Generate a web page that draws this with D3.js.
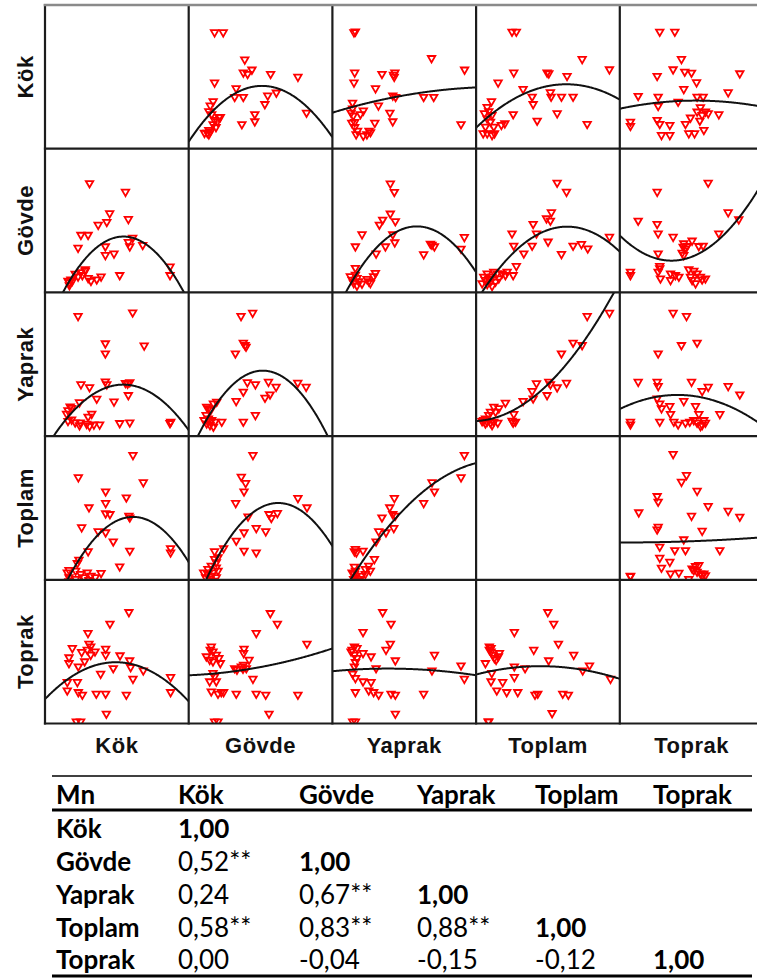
<!DOCTYPE html>
<html>
<head>
<meta charset="utf-8">
<script src="https://cdn.jsdelivr.net/npm/d3@7"></script>
<style>
  body { margin: 0; background: #fff; }
  svg { display: block; }
</style>
</head>
<body>
<svg id="chart" width="757" height="979"></svg>
<script>
// Mn concentrations (relative scale, 0–100 of each variable's axis range)
const variables = ["Kök", "Gövde", "Yaprak", "Toplam", "Toprak"];

// Paired observations, stored as [first variable, second variable]
const kokGovde = [[81,12],[81,18],[62,33],[53,32],[52,35],[55,38],[46,12],[52,51],[50,70],[42,27],[36,26],[36,32],[37,49],[39,55],[31,47],[33,11],[30,9],[26,8],[24,10],[22,15],[20,12],[17,11],[15,13],[13,8],[11,7],[10,8],[11,5],[12,9],[24,40],[19,40],[17,31],[25,76],[22,16],[19,14]];
const kokYaprak = [[17,83.5],[55,86],[36,64.5],[36,57.5],[63,63],[19,36],[25,34],[36,38],[37,36],[30,26],[42,24],[52,28.5],[50,37],[53,37.5],[51.5,36.5],[18,23.5],[11.5,20.5],[10,18],[9,15.5],[12.5,19.5],[10,10.5],[12.5,11.5],[15,9.5],[18.5,9.5],[18,7.5],[23,8.5],[25,7],[26.5,15.5],[24,13.5],[28,8],[32,8],[46,9],[53,9.5],[81.5,10],[81,9]];
const kokToplam = [[81.4,19],[81.4,22],[62.4,67.8],[53,20.2],[53,43.4],[52.4,44.6],[50.6,57.3],[55.2,86.8],[46,9.3],[41.5,26.7],[36.2,33],[39.2,45.7],[36.2,46.2],[36.2,53.4],[36.2,61.5],[31,33.7],[33,4.7],[29,1.7],[26,2.8],[24.6,-0.2],[23.4,5],[21,1.7],[18.8,4],[10.7,-1.1],[10.7,1.7],[9.5,5.1],[10.7,6.8],[15.3,0.5],[15.3,6.3],[24,19.8],[17.6,14],[16.5,11.6],[19.5,36.5],[24.6,50.4],[17.2,71.3]];
const kokToprak = [[81.4,21.8],[81.4,32.3],[62.4,36.9],[55.2,31.1],[53.6,39.2],[52.9,43.9],[50.6,20],[52.4,77.5],[46.2,47.4],[41.5,38.5],[36.7,6.8],[36.2,20.7],[32.7,34.6],[36.2,47.8],[36.2,52],[39.2,69.4],[29.7,20.7],[28.8,50.1],[25.8,53.6],[23.4,51.3],[24.6,55.5],[23.9,62.9],[25.8,47.8],[21.6,43.2],[19.5,49.7],[18.8,1.4],[15.8,1.4],[20,20],[17.2,21.8],[16.5,28.8],[17.2,39.7],[9.5,23],[9.5,28.8],[10.7,42],[10.7,46],[13,52.5]];
const govdeYaprak = [[30.4,83.5],[38.5,85.8],[32,65],[33.2,63.3],[33.9,62.2],[26.5,57.5],[34.8,37.4],[40.4,36],[49.5,37.8],[54.8,34.3],[69.9,37.1],[75.7,34.3],[32,30.9],[27,24.4],[50.6,29],[47.1,26.7],[40.4,14.6],[32,10],[6.5,20.4],[7.7,19.3],[9.3,18.1],[11.2,22.7],[13.5,23.9],[6.1,14.6],[7.7,12.3],[10,11.1],[6.5,8.8],[12.3,10],[17,10],[8.8,7.7],[11.2,6.5],[4.7,11.1]];
const govdeToplam = [[76.3,50.4],[70,56.9],[55.7,46.4],[51.5,43],[49.9,45.7],[47.6,33.7],[41,36],[41,19],[32.5,20.2],[27.1,27.2],[32.5,33],[35.3,44.1],[26.7,53.4],[32.5,61.5],[33.6,67.3],[30.6,71.7],[38.7,86.8],[18.3,22],[12,19.8],[6.3,-1.8],[8.6,0.5],[9.7,2.8],[10.9,5.1],[13.2,1.7],[14.4,6.3],[13.2,8.6],[13.2,12.1],[12,14.4],[14.4,15.6],[7.4,4],[7.4,7.5],[10.9,-0.7],[5.8,1.7],[4.4,5.1],[9.7,9.8]];
const govdeToprak = [[76.3,55.5],[70,20],[55.7,69.4],[50.8,76.8],[49.9,6.8],[47.6,20],[41,62.9],[41,20.7],[38.7,31.1],[34.1,38.5],[31.8,38.1],[30.6,39.7],[32.2,40.9],[36,44.3],[32.2,49],[32.5,52],[27.6,37.4],[26,38.5],[27.1,20.7],[18.3,21.8],[16.7,21.8],[14.4,20.7],[13.2,29.3],[12,32.7],[10.9,35.1],[9.7,22.3],[8.6,29.3],[16,42],[15,45.5],[13.2,47.8],[10.9,50.1],[9,51.3],[9.7,53.6],[8.6,44.3],[6.3,46.7],[14.4,1.4],[12,1.4],[10.9,43.2]];
const yaprakToplam = [[83.5,71.3],[85.8,86.8],[65,61.5],[63.3,67.8],[57.5,53.4],[36.7,36],[37.8,44.6],[36,45.7],[33.9,50.4],[37.1,56.9],[31.3,33],[26.2,33.7],[28.5,43.4],[24.4,26.7],[23.2,14.4],[20.4,6.3],[19.3,9.8],[16.9,4],[16.9,7.5],[14.6,2.8],[12.3,0.5],[11.1,-0.7],[10,1.7],[9.3,4],[10,6.3],[10.4,-1.8],[8.8,0.5],[9.3,9.1],[7.7,5.1],[15.3,20.2],[10.7,19],[10,21.4],[9.3,19.8]];
const yaprakToprak = [[85.8,31.1],[83.5,40.4],[63.3,36.9],[65,47.8],[57.5,20.7],[37.8,6.8],[37.8,20],[34.8,20.7],[37.8,43.9],[31.3,51.3],[34.3,55.5],[34.8,69.4],[29,77.5],[26.2,20],[22.7,21.8],[19.3,23],[20.9,28.8],[15.3,29.3],[24.4,38.5],[20.9,46.7],[15.3,49],[15.3,63.6],[10,1.4],[8.1,1.4],[10,21.8],[10,31.6],[8.1,34.6],[9.3,39.7],[10,42.7],[11.1,45.5],[9.3,47.8],[7.7,51.3],[11.1,52.5],[9.3,53.6],[7,50.1]];
const toplamToprak = [[87.5,31.1],[72.9,40.4],[68.2,36.9],[61.9,47.8],[58.2,20],[54.3,20.7],[51.3,55.5],[46.9,7.2],[44.5,43.9],[48,69.4],[43.9,77.5],[36.9,20.7],[35,20],[34.1,51.3],[28.1,38.5],[23,21.8],[20.6,32.3],[20.6,39.7],[20.6,63.6],[15.3,21.8],[12.5,28.8],[8.4,23],[4.4,29.3],[4.9,35.1],[2.8,1.4],[2.4,1.4],[0.5,42],[7.9,44.3],[9.5,46.7],[10.2,49],[6.7,45.5],[4.4,50.1],[3.2,51.3],[3.2,53.6],[4.4,52.5],[5.6,47.8]];

// Pearson correlations and significance markers (lower triangle)
const corrValues = [
  [1.00],
  [0.52, 1.00],
  [0.24, 0.67, 1.00],
  [0.58, 0.83, 0.88, 1.00],
  [0.00, -0.04, -0.15, -0.12, 1.00]
];
const corrStars = [
  [""],
  ["**", ""],
  ["", "**", ""],
  ["**", "**", "**", ""],
  ["", "", "", "", ""]
];
const tableCorner = "Mn";

const pairData = {
  "0-1": kokGovde, "0-2": kokYaprak, "0-3": kokToplam, "0-4": kokToprak,
  "1-2": govdeYaprak, "1-3": govdeToplam, "1-4": govdeToprak,
  "2-3": yaprakToplam, "2-4": yaprakToprak, "3-4": toplamToprak
};

// ---------- layout ----------
const svg = d3.select("#chart");
const gridLeft = 45, gridTop = 5, cell = 143.7;
const nVar = variables.length;
const xDomain = [-6, 94];   // horizontal axes carry extra left padding
const yDomain = [0, 100];

const xScales = variables.map((_, j) =>
  d3.scaleLinear().domain(xDomain).range([gridLeft + j * cell, gridLeft + (j + 1) * cell]));
const yScales = variables.map((_, i) =>
  d3.scaleLinear().domain(yDomain).range([gridTop + (i + 1) * cell, gridTop + i * cell]));

// least-squares quadratic y = a + b x + c x^2
function quadFit(pts) {
  let S = [0, 0, 0, 0, 0], T = [0, 0, 0];
  for (const [x, y] of pts) {
    let p = 1;
    for (let k = 0; k < 5; k++) { S[k] += p; if (k < 3) T[k] += p * y; p *= x; }
  }
  const M = [
    [S[0], S[1], S[2], T[0]],
    [S[1], S[2], S[3], T[1]],
    [S[2], S[3], S[4], T[2]]
  ];
  for (let c = 0; c < 3; c++) {
    let piv = c;
    for (let r = c + 1; r < 3; r++) if (Math.abs(M[r][c]) > Math.abs(M[piv][c])) piv = r;
    [M[c], M[piv]] = [M[piv], M[c]];
    for (let r = 0; r < 3; r++) {
      if (r === c) continue;
      const f = M[r][c] / M[c][c];
      for (let k = c; k < 4; k++) M[r][k] -= f * M[c][k];
    }
  }
  return [M[0][3] / M[0][0], M[1][3] / M[1][1], M[2][3] / M[2][2]];
}

const defs = svg.append("defs");
const marker = d3.symbol().type(d3.symbolTriangle).size(24);

const panels = svg.append("g");
for (let r = 0; r < nVar; r++) {
  for (let c = 0; c < nVar; c++) {
    if (r === c) continue;
    const key = r < c ? `${r}-${c}` : `${c}-${r}`;
    // x = column variable, y = row variable
    const pts = pairData[key].map(d => r < c ? [d[1], d[0]] : [d[0], d[1]]);
    const xs = xScales[c], ys = yScales[r];
    const clipId = `clip-${r}-${c}`;
    defs.append("clipPath").attr("id", clipId)
      .append("rect")
      .attr("x", xs.range()[0]).attr("y", ys.range()[1])
      .attr("width", cell).attr("height", cell);

    const g = panels.append("g").attr("clip-path", `url(#${clipId})`);

    g.selectAll("path.pt").data(pts).join("path")
      .attr("class", "pt")
      .attr("d", marker)
      .attr("transform", d => `translate(${xs(d[0])},${ys(d[1])}) rotate(180)`)
      .attr("fill", "none")
      .attr("stroke", "#ff0000")
      .attr("stroke-width", 1.8);

    const [a, b, q] = quadFit(pts);
    const curve = d3.range(xDomain[0], xDomain[1] + 0.001, 0.5).map(x => [x, a + b * x + q * x * x]);
    g.append("path")
      .datum(curve)
      .attr("d", d3.line().x(d => xs(d[0])).y(d => ys(d[1])))
      .attr("fill", "none")
      .attr("stroke", "#111")
      .attr("stroke-width", 2);
  }
}

// grid frame
const grid = svg.append("g").attr("stroke-linecap", "square");
const gridBottom = gridTop + nVar * cell;
const gridRight = gridLeft + nVar * cell;
for (let k = 1; k <= nVar; k++) {
  grid.append("line")
    .attr("x1", gridLeft).attr("x2", gridRight)
    .attr("y1", gridTop + k * cell).attr("y2", gridTop + k * cell)
    .attr("stroke", "#1c1c1c").attr("stroke-width", 2.2);
}
for (let k = 0; k < nVar; k++) {
  grid.append("line")
    .attr("x1", gridLeft + k * cell).attr("x2", gridLeft + k * cell)
    .attr("y1", gridTop).attr("y2", gridBottom)
    .attr("stroke", "#1c1c1c").attr("stroke-width", 2.2);
}
grid.append("line")
  .attr("x1", gridLeft).attr("x2", gridRight)
  .attr("y1", gridTop).attr("y2", gridTop)
  .attr("stroke", "#8a8a8a").attr("stroke-width", 2.6);

// variable labels
const labelFont = "'Liberation Sans', Arial, sans-serif";
svg.append("g").selectAll("text").data(variables).join("text")
  .attr("x", (d, j) => gridLeft + (j + 0.5) * cell)
  .attr("y", gridBottom + 29)
  .attr("text-anchor", "middle")
  .attr("font-family", labelFont).attr("font-weight", "bold")
  .attr("font-size", 22).attr("letter-spacing", 0.5)
  .attr("fill", "#111")
  .text(d => d);

svg.append("g").selectAll("text").data(variables).join("text")
  .attr("transform", (d, i) => `translate(33,${gridTop + (i + 0.5) * cell}) rotate(-90)`)
  .attr("text-anchor", "middle")
  .attr("font-family", labelFont).attr("font-weight", "bold")
  .attr("font-size", 22).attr("letter-spacing", 0.5)
  .attr("fill", "#111")
  .text(d => d);

// ---------- correlation table ----------
const tbl = svg.append("g")
  .attr("font-family", "Lato, 'Open Sans', sans-serif")
  .attr("font-size", 26)
  .attr("fill", "#000");
const colX = [56, 178, 299, 417, 535, 653];
const headerY = 804;
const rowY = [838, 871, 904, 937, 969];
const fmt = v => d3.format(".2f")(v).replace(".", ",").replace("−", "-");

tbl.append("line").attr("x1", 52).attr("x2", 752).attr("y1", 776).attr("y2", 776)
  .attr("stroke", "#000").attr("stroke-width", 1.6);
tbl.append("line").attr("x1", 52).attr("x2", 752).attr("y1", 810).attr("y2", 810)
  .attr("stroke", "#000").attr("stroke-width", 3.2);
tbl.append("line").attr("x1", 52).attr("x2", 752).attr("y1", 976).attr("y2", 976)
  .attr("stroke", "#000").attr("stroke-width", 3.2);

tbl.selectAll("text.hdr").data([tableCorner, ...variables]).join("text")
  .attr("class", "hdr")
  .attr("x", (d, i) => colX[i]).attr("y", headerY)
  .attr("font-weight", "bold")
  .text(d => d);

variables.forEach((name, i) => {
  tbl.append("text").attr("x", colX[0]).attr("y", rowY[i])
    .attr("font-weight", "bold").text(name);
  corrValues[i].forEach((v, j) => {
    tbl.append("text").attr("x", colX[j + 1]).attr("y", rowY[i])
      .attr("font-weight", i === j ? "bold" : "normal")
      .text(fmt(v) + corrStars[i][j]);
  });
});
</script>
</body>
</html>
